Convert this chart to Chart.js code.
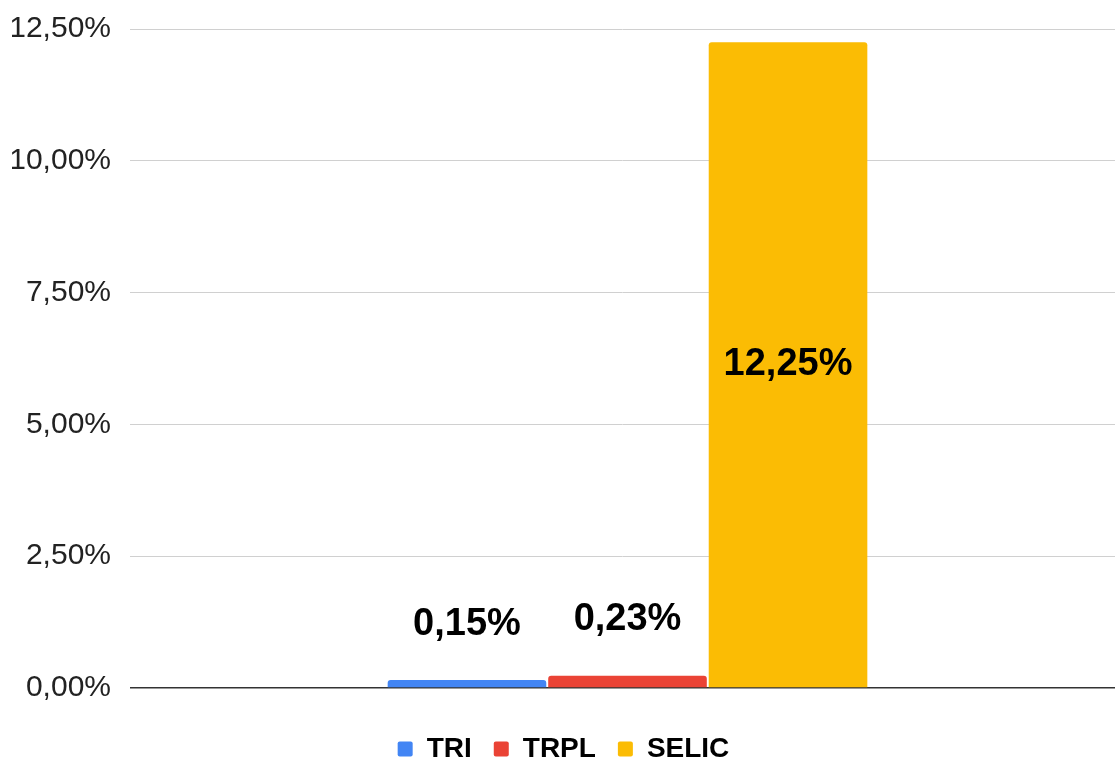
<!DOCTYPE html>
<html>
<head>
<meta charset="utf-8">
<script src="https://cdn.jsdelivr.net/npm/chart.js@4/dist/chart.umd.min.js"></script>
<style>
  html, body { margin: 0; padding: 0; background: #fff; }
  #wrap { width: 1115px; height: 762px; }
</style>
</head>
<body>
<div id="wrap"><canvas id="myChart"></canvas></div>
<script>
    "use strict";

    // data (values in %)
    var categories = [''];
    var seriesNames = ['TRI', 'TRPL', 'SELIC'];
    var seriesValues = [[0.15], [0.23], [12.25]];
    var seriesColors = ['#4285F4', '#EA4335', '#FBBC04'];
    var yTicks = [0, 2.5, 5, 7.5, 10, 12.5];

    function fmt(v) {
        return v.toFixed(2).replace('.', ',') + '%';
    }

    // value labels, inside the bar when it is tall, above it otherwise
    var valueLabels = {
        id: 'valueLabels',
        afterLayout: function (chart) {
            // the original plot runs a little past the right edge of the image
            var x = chart.scales.x;
            x.right += 10;
            x.width += 10;
            x.configure();
        },
        afterDatasetsDraw: function (chart) {
            var ctx = chart.ctx;
            ctx.save();
            ctx.font = 'bold 38px "Liberation Sans", Arial, sans-serif';
            ctx.fillStyle = '#000';
            ctx.textAlign = 'center';
            ctx.textBaseline = 'middle';
            chart.data.datasets.forEach(function (ds, i) {
                chart.getDatasetMeta(i).data.forEach(function (bar, j) {
                    var h = bar.base - bar.y;
                    var y = h > 120 ? (bar.y + bar.base) / 2 : bar.y - 56;
                    ctx.fillText(fmt(ds.data[j]), bar.x, y);
                });
            });
            ctx.restore();
        }
    };

    var ctx = document.getElementById('myChart').getContext('2d');
    var chart = new Chart(ctx, {
        type: 'bar',
        data: {
            labels: categories,
            datasets: seriesNames.map(function (name, i) {
                return {
                    label: name,
                    data: seriesValues[i],
                    backgroundColor: seriesColors[i],
                    borderRadius: 3,
                    categoryPercentage: 0.484,
                    barPercentage: 0.988
                };
            })
        },
        options: {
            responsive: true,
            maintainAspectRatio: false,
            animation: false,
            layout: { padding: { left: 12, right: 0, top: 0, bottom: -11 } },
            plugins: {
                tooltip: { enabled: false },
                legend: {
                    position: 'bottom',
                    labels: {
                        boxWidth: 15,
                        boxHeight: 15,
                        padding: 22,
                        color: '#222',
                        font: { family: '"Liberation Sans", Arial, sans-serif', size: 28, weight: 'bold' },
                        generateLabels: function (c) {
                            return c.data.datasets.map(function (ds, i) {
                                return {
                                    text: ds.label,
                                    fillStyle: ds.backgroundColor,
                                    strokeStyle: ds.backgroundColor,
                                    lineWidth: 0,
                                    borderRadius: 2,
                                    datasetIndex: i
                                };
                            });
                        }
                    }
                }
            },
            scales: {
                x: {
                    display: true,
                    grid: { display: false },
                    border: { display: false },
                    ticks: { display: false },
                    afterFit: function (s) { s.height = 25; }
                },
                y: {
                    min: 0,
                    max: 12.5,
                    afterBuildTicks: function (axis) {
                        axis.ticks = yTicks.map(function (v) { return { value: v }; });
                    },
                    afterFit: function (s) {
                        s.width = 118;
                        s.paddingTop = Math.max(0, s.paddingTop - 8);
                    },
                    border: { display: false },
                    grid: {
                        drawTicks: false,
                        color: function (c) { return c.tick && c.tick.value === 0 ? '#333' : '#d0d0d0'; },
                        lineWidth: function (c) { return c.tick && c.tick.value === 0 ? 1.5 : 1; }
                    },
                    ticks: {
                        padding: 19,
                        color: '#222',
                        font: { family: '"Liberation Sans", Arial, sans-serif', size: 30 },
                        callback: function (v) { return fmt(v); }
                    }
                }
            }
        },
        plugins: [valueLabels]
    });
</script>
</body>
</html>
